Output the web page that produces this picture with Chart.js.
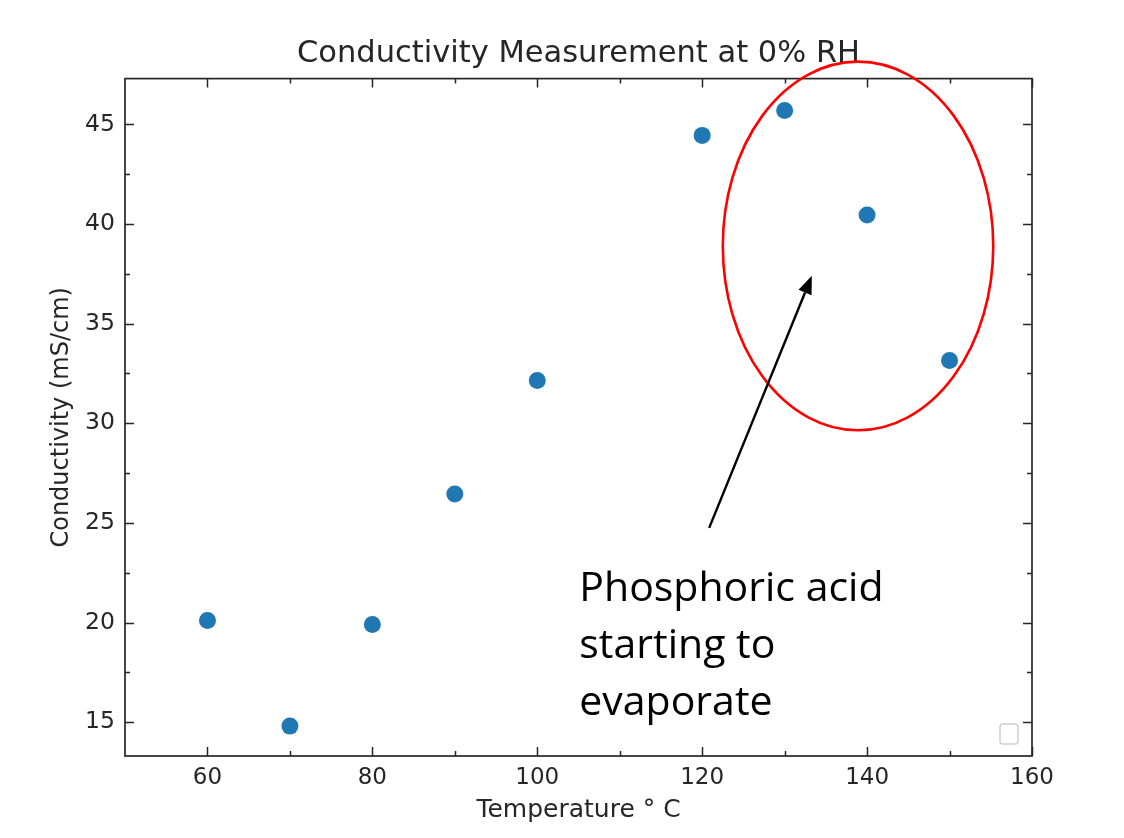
<!DOCTYPE html>
<html>
<head>
<meta charset="utf-8">
<script src="https://cdn.jsdelivr.net/npm/chart.js@4.4.0/dist/chart.umd.min.js"></script>
<style>
  html, body { margin: 0; padding: 0; background: #fff; }
  #wrap { width: 1124px; height: 838px; }
</style>
</head>
<body>
<div id="wrap"><canvas id="chart" width="1124" height="838"></canvas></div>
<script>
// --- DATA ---
const temperatures = [60, 70, 80, 90, 100, 120, 130, 140, 150];
const conductivity = [20.1, 14.8, 19.9, 26.45, 32.15, 44.45, 45.7, 40.45, 33.15];

const xTicks = [60, 80, 100, 120, 140, 160];
const yTicks = [15, 20, 25, 30, 35, 40, 45];
const xMinorTicks = [70, 90, 110, 130, 150];
const yMinorTicks = [17.5, 22.5, 27.5, 32.5, 37.5, 42.5];

// annotation, in data units
const noteLines = ['Phosphoric acid', 'starting to', 'evaporate'];
const notePos = {x: 105.1, y: 21.1};
const arrowFrom = {x: 120.85, y: 24.75};
const arrowTo = {x: 133.3, y: 37.4};
const ringCenter = {x: 138.9, y: 38.9};
const ringRadius = {x: 16.4, y: 9.25};

const INK = '#262626';
Chart.defaults.font.family = "'DejaVu Sans', sans-serif";
Chart.defaults.color = INK;

// frame, inward ticks, red ring, arrow, note text, empty legend box
const decorPlugin = {
    id: 'decor',
    afterDatasetsDraw(chart) {
        const {ctx, chartArea: a, scales: {x, y}} = chart;
        ctx.save();
        ctx.strokeStyle = INK;
        ctx.lineWidth = 1.7;
        ctx.strokeRect(a.left, a.top, a.right - a.left, a.bottom - a.top);

        // ticks pointing into the plot on all four sides
        ctx.lineWidth = 1.5;
        const tickX = (v, len) => {
            const px = Math.round(x.getPixelForValue(v)) + 0.5;
            ctx.beginPath();
            ctx.moveTo(px, a.bottom); ctx.lineTo(px, a.bottom - len);
            ctx.moveTo(px, a.top); ctx.lineTo(px, a.top + len);
            ctx.stroke();
        };
        const tickY = (v, len) => {
            const py = Math.round(y.getPixelForValue(v)) + 0.5;
            ctx.beginPath();
            ctx.moveTo(a.left, py); ctx.lineTo(a.left + len, py);
            ctx.moveTo(a.right, py); ctx.lineTo(a.right - len, py);
            ctx.stroke();
        };
        xTicks.forEach(v => tickX(v, 9));
        xMinorTicks.forEach(v => tickX(v, 5));
        yTicks.forEach(v => tickY(v, 9));
        yMinorTicks.forEach(v => tickY(v, 5));

        // red ellipse round the last three points
        const cx = x.getPixelForValue(ringCenter.x);
        const cy = y.getPixelForValue(ringCenter.y);
        const rx = x.getPixelForValue(ringCenter.x + ringRadius.x) - cx;
        const ry = cy - y.getPixelForValue(ringCenter.y + ringRadius.y);
        ctx.strokeStyle = '#ff0000';
        ctx.lineWidth = 2.6;
        ctx.beginPath();
        ctx.ellipse(cx, cy, rx, ry, 0, 0, Math.PI * 2);
        ctx.stroke();

        // arrow
        const x0 = x.getPixelForValue(arrowFrom.x), y0 = y.getPixelForValue(arrowFrom.y);
        const x1 = x.getPixelForValue(arrowTo.x), y1 = y.getPixelForValue(arrowTo.y);
        const ang = Math.atan2(y1 - y0, x1 - x0);
        const headLen = 18, headW = 7;
        const bx = x1 - headLen * Math.cos(ang), by = y1 - headLen * Math.sin(ang);
        ctx.strokeStyle = '#000';
        ctx.fillStyle = '#000';
        ctx.lineWidth = 2.4;
        ctx.beginPath();
        ctx.moveTo(x0, y0); ctx.lineTo(bx, by);
        ctx.stroke();
        ctx.beginPath();
        ctx.moveTo(x1, y1);
        ctx.lineTo(bx + headW * Math.sin(ang), by - headW * Math.cos(ang));
        ctx.lineTo(bx - headW * Math.sin(ang), by + headW * Math.cos(ang));
        ctx.closePath();
        ctx.fill();

        // note text
        ctx.font = "41px 'Open Sans', sans-serif";
        ctx.fillStyle = '#000';
        ctx.textBaseline = 'alphabetic';
        ctx.textAlign = 'left';
        const tx = x.getPixelForValue(notePos.x);
        let ty = y.getPixelForValue(notePos.y);
        noteLines.forEach(line => {
            ctx.fillText(line, tx, ty);
            ty += 57;
        });

        // empty legend frame, bottom right
        ctx.strokeStyle = '#d0d0d0';
        ctx.lineWidth = 1.5;
        ctx.beginPath();
        ctx.roundRect(a.right - 32, a.bottom - 32, 18, 20, 3);
        ctx.stroke();
        ctx.restore();
    }
};

new Chart(document.getElementById('chart'), {
    type: 'scatter',
    data: {
        datasets: [{
            data: temperatures.map((t, i) => ({x: t, y: conductivity[i]})),
            backgroundColor: '#1f77b4',
            borderWidth: 0,
            pointRadius: 8.5,
            pointHoverRadius: 8.5
        }]
    },
    options: {
        responsive: false,
        animation: false,
        events: [],
        layout: { padding: { left: 0, right: 92, top: 0, bottom: 0 } },
        plugins: {
            legend: { display: false },
            tooltip: { enabled: false },
            title: {
                display: true,
                fullSize: false,
                text: 'Conductivity Measurement at 0% RH',
                color: INK,
                font: { size: 30.5, weight: 'normal' },
                padding: { top: 36, bottom: 6 }
            }
        },
        scales: {
            x: {
                type: 'linear',
                min: 50,
                max: 160,
                afterBuildTicks: s => { s.ticks = xTicks.map(v => ({value: v})); },
                afterFit: s => { s.height = 82; },
                grid: { display: false, drawTicks: false },
                border: { display: false },
                ticks: { font: { size: 23 }, padding: 8, maxRotation: 0, color: INK },
                title: {
                    display: true,
                    text: 'Temperature ° C',
                    font: { size: 25 },
                    color: INK,
                    padding: { top: 0, bottom: 13 }
                }
            },
            y: {
                type: 'linear',
                min: 13.3,
                max: 47.3,
                afterBuildTicks: s => { s.ticks = yTicks.map(v => ({value: v})); },
                afterFit: s => { s.width = 125; },
                grid: { display: false, drawTicks: false },
                border: { display: false },
                ticks: { font: { size: 23.5 }, padding: 10, color: INK },
                title: {
                    display: true,
                    text: 'Conductivity (mS/cm)',
                    font: { size: 24 },
                    color: INK,
                    padding: { top: 47, bottom: 0 }
                }
            }
        }
    },
    plugins: [decorPlugin]
});
</script>
</body>
</html>
